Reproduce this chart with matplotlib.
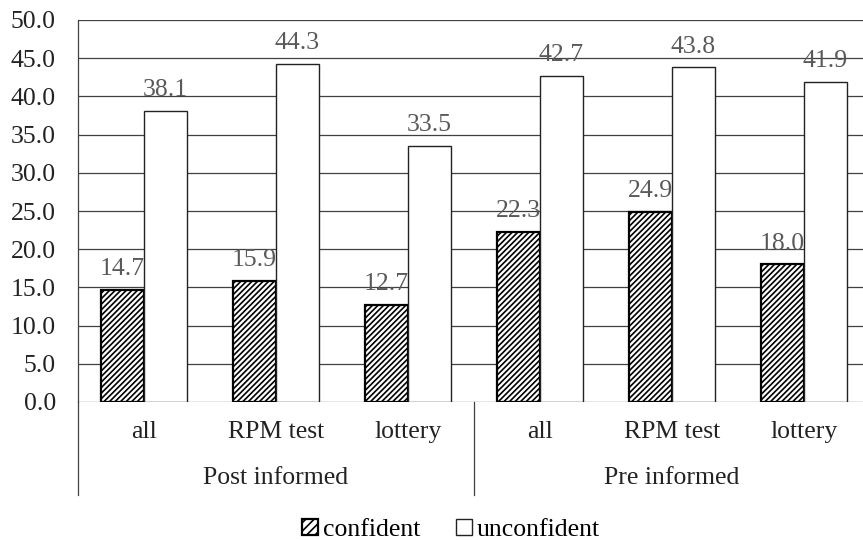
import matplotlib
matplotlib.use("Agg")
import matplotlib.pyplot as plt
from matplotlib.patches import Patch
from matplotlib.lines import Line2D
import numpy as np

categories = ["all", "RPM test", "lottery", "all", "RPM test", "lottery"]
groups = ["Post informed", "Pre informed"]
confident = [14.7, 15.9, 12.7, 22.3, 24.9, 18.0]
unconfident = [38.1, 44.3, 33.5, 42.7, 43.8, 41.9]
series_names = ["confident", "unconfident"]
yticks = [0, 5, 10, 15, 20, 25, 30, 35, 40, 45, 50]

FONT = ["Liberation Serif", "DejaVu Serif"]
plt.rcParams["font.family"] = FONT
plt.rcParams["hatch.linewidth"] = 1.2
FS = 18.5
HATCH = "//////"

fig = plt.figure(figsize=(8.63, 5.40), dpi=100)
W, H = 863, 540
ax = fig.add_axes([78 / W, (H - 402) / H, 792 / W, 382 / H])

x = np.arange(len(categories))
bw = 0.326
grid_c = "#404040"

for y in yticks:
    ax.axhline(y, color=grid_c, lw=0.9, zorder=0)

ax.bar(x - bw / 2, confident, width=bw, facecolor="white", edgecolor="black",
       hatch=HATCH, linewidth=1.6, zorder=3)
ax.bar(x + bw / 2, unconfident, width=bw, facecolor="white", edgecolor="#222222",
       linewidth=1.0, zorder=3)

for xi, v in zip(x - bw / 2, confident):
    ax.annotate(f"{v:.1f}", (xi, v), xytext=(0, 7), textcoords="offset points",
                ha="center", va="bottom", fontsize=FS, color="#595959", zorder=5)
for xi, v in zip(x + bw / 2, unconfident):
    ax.annotate(f"{v:.1f}", (xi, v), xytext=(0, 7), textcoords="offset points",
                ha="center", va="bottom", fontsize=FS, color="#595959", zorder=5)

ax.set_xlim(-0.5, 5.5)
ax.set_ylim(0, 50)
ax.set_yticks(yticks)
ax.set_yticklabels([f"{t:.1f}" for t in yticks], fontsize=FS, color="#222222")
ax.tick_params(axis="y", length=0, pad=16)
ax.set_xticks([])
for s in ["top", "right", "bottom"]:
    ax.spines[s].set_visible(False)
ax.spines["left"].set_color(grid_c)
ax.spines["left"].set_linewidth(0.9)

trans = ax.get_xaxis_transform()
axh = 382.0
for xi, c in zip(x, categories):
    ax.text(xi, -30 / axh, c, transform=trans, ha="center", va="center",
            fontsize=FS, color="#222222")
for gi, g in enumerate(groups):
    ax.text(gi * 3 + 1, -76 / axh, g, transform=trans, ha="center", va="center",
            fontsize=FS, color="#222222")
for xs in [-0.5, 2.5, 5.5]:
    ax.add_line(Line2D([xs, xs], [0, -93 / axh], transform=trans, color=grid_c,
                       lw=0.9, clip_on=False))

handles = [Patch(facecolor="white", edgecolor="black", hatch="////", linewidth=1.6),
           Patch(facecolor="white", edgecolor="#222222", linewidth=1.0)]
fig.legend(handles, series_names, loc="center", bbox_to_anchor=(451 / W, 1 - 530 / H),
           ncol=2, frameon=False, fontsize=FS, handlelength=0.6, handleheight=0.6,
           handletextpad=0.2, columnspacing=1.4, borderpad=0)

fig.savefig("out.png", dpi=100)
